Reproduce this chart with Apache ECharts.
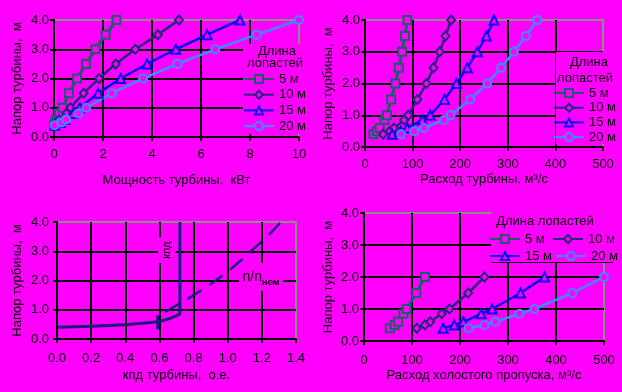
<!DOCTYPE html>
<html>
<head>
<meta charset="utf-8">
<script src="https://cdn.jsdelivr.net/npm/echarts@6/dist/echarts.min.js"></script>
<style>
html,body{margin:0;padding:0;background:#FF00FF;}
#c{width:622px;height:392px;}
</style>
</head>
<body>
<div id="c"></div>
<script>
// ---------- data ----------
const seriesNames = ['5 м', '10 м', '15 м', '20 м'];

// Top-left: head vs turbine power (kW)
const powerHeads = [0.4, 0.5, 0.6, 0.8, 1.0, 1.5, 2.0, 2.5, 3.0, 3.5, 4.0];
const power5  = [0.02, 0.05, 0.10, 0.20, 0.35, 0.61, 0.94, 1.31, 1.69, 2.11, 2.55];
const power10 = [0.02, 0.10, 0.20, 0.50, 0.67, 1.21, 1.84, 2.52, 3.32, 4.24, 5.10];
const power15 = [0.03, 0.25, 0.45, 0.78, 1.05, 1.80, 2.72, 3.80, 4.97, 6.25, 7.59];
const power20 = [0.03, 0.30, 0.50, 1.00, 1.32, 2.36, 3.64, 5.04, 6.59, 8.27, 10.0];

// Top-right: head vs turbine discharge (m3/s)
const flowHeads = [0.4, 0.5, 0.6, 0.85, 1.0, 1.5, 2.0, 2.5, 3.0, 3.5, 4.0];
const flow5  = [18, 25, 31, 41, 46, 55, 64, 71, 78, 84, 89];
const flow10 = [38, 52, 61, 82, 91, 110, 129, 144, 157, 169, 181];
const flow15 = [57, 75, 89, 120, 137, 167, 192, 215, 236, 255, 271];
const flow20 = [76, 103, 124, 166, 180, 221, 257, 286, 313, 338, 362];

// Bottom-left: efficiency and n/n_nom vs head
const effX = [0.0, 0.2, 0.4, 0.55, 0.6, 0.66, 0.72, 0.72];
const effH = [0.40, 0.44, 0.49, 0.56, 0.60, 0.70, 0.85, 4.0];
const effMark = [0.59, 0.57];
const nX = [0.632, 0.656, 0.80, 0.93, 1.04, 1.135, 1.23, 1.312];
const nH = [0.93, 1.0, 1.5, 2.0, 2.5, 3.0, 3.5, 4.0];

// Bottom-right: head vs idle spill discharge (m3/s)
const spillHeads = [0.4, 0.5, 0.6, 0.85, 1.0, 1.5, 2.0];
const spill5  = [54, 64, 71, 82, 89, 109, 127];
const spill10 = [110, 127, 138, 162, 178, 217, 251];
const spill15 = [165, 188, 207, 244, 267, 326, 376];
const spill20 = [218, 251, 274, 324, 355, 434, 500];

// tick settings
const headTicks = {min: 0, max: 4, interval: 1};
const powerTicks = {min: 0, max: 10, interval: 2};
const flowTicks = {min: 0, max: 500, interval: 100};
const effTicks = {min: 0, max: 1.4, interval: 0.2};

// ---------- styling ----------
const FONT = '"Liberation Sans", Arial, sans-serif';
const BG = '#FF00FF';
const styles = {
  '5 м':  {color: '#1E5A6C', symbol: 'rect',     size: 8,      width: 3},
  '10 м': {color: '#26267E', symbol: 'diamond',  size: [8, 9], width: 2.5},
  '15 м': {color: '#0A0AEE', symbol: 'triangle', size: 9,      width: 2.5},
  '20 м': {color: '#3C8CFF', symbol: 'circle',   size: 8,      width: 2.5}
};

function pairs(xs, ys) { return xs.map((x, i) => [x, ys[i]]); }

function lineSeries(name, xIdx, yIdx, xs, ys) {
  const s = styles[name];
  return {
    type: 'line', name: name, xAxisIndex: xIdx, yAxisIndex: yIdx,
    data: pairs(xs, ys),
    symbol: s.symbol, symbolSize: s.size,
    lineStyle: {color: s.color, width: s.width},
    itemStyle: {color: BG, borderColor: s.color, borderWidth: 2},
    z: 2, animation: false
  };
}

const tickLabel1 = v => v.toFixed(1);

function xAxis(grid, ticks, name, nameGap, labelMargin, fmt) {
  return Object.assign({
    type: 'value', gridIndex: grid, name: name, nameLocation: 'middle', nameGap: nameGap,
    nameTextStyle: {color: '#000', fontSize: 13, fontFamily: FONT},
    axisLine: {show: true, onZero: false, lineStyle: {color: '#000', width: 2}},
    axisTick: {show: true, length: 4, lineStyle: {color: '#000', width: 2}},
    axisLabel: {color: '#000', fontSize: 13, fontFamily: FONT, margin: labelMargin, formatter: fmt},
    splitLine: {show: true, showMinLine: false, showMaxLine: false, lineStyle: {color: '#000', width: 2}}
  }, ticks);
}
function yAxis(grid, name, nameGap, labelMargin) {
  return Object.assign({
    type: 'value', gridIndex: grid, name: name, nameLocation: 'middle', nameGap: nameGap,
    nameTextStyle: {color: '#000', fontSize: 13, fontFamily: FONT},
    axisLine: {show: true, onZero: false, lineStyle: {color: '#000', width: 2}},
    axisTick: {show: true, length: 4, lineStyle: {color: '#000', width: 2}},
    axisLabel: {color: '#000', fontSize: 13, fontFamily: FONT, margin: labelMargin, formatter: tickLabel1},
    splitLine: {show: true, showMinLine: false, showMaxLine: false, lineStyle: {color: '#000', width: 2}}
  }, headTicks);
}

const gridBase = {show: true, borderColor: '#8C8C8C', borderWidth: 2, backgroundColor: 'transparent', containLabel: false};

function legendBox(opts) {
  return Object.assign({
    itemWidth: 30, itemHeight: 10,
    textStyle: {color: '#000', fontSize: 13, fontFamily: FONT, lineHeight: 14},
    backgroundColor: 'transparent', padding: 0, z: 4
  }, opts);
}

function gText(text, x, y, extra) {
  return Object.assign({
    type: 'text', x: x, y: y, z: 10,
    style: {text: text, fill: '#000', font: '13px ' + FONT, align: 'center', verticalAlign: 'middle'}
  }, extra || {});
}
function gRect(x, y, w, h) {
  return {type: 'rect', z: 3, shape: {x: x, y: y, width: w, height: h}, style: {fill: BG}};
}

const option = {
  backgroundColor: BG,
  animation: false,
  grid: [
    Object.assign({left: 54, top: 20, width: 245, height: 117}, gridBase),
    Object.assign({left: 365, top: 20, width: 238, height: 127}, gridBase),
    Object.assign({left: 57, top: 222, width: 239, height: 117}, gridBase),
    Object.assign({left: 364, top: 213, width: 240, height: 128}, gridBase)
  ],
  xAxis: [
    xAxis(0, powerTicks, 'Мощность турбины,  кВт', 37, 11),
    xAxis(1, flowTicks, 'Расход турбины, м³/с', 26, 11),
    xAxis(2, effTicks, 'кпд турбины,  о.е.', 30, 13, tickLabel1),
    xAxis(3, flowTicks, 'Расход холостого пропуска, м³/с', 28, 13)
  ],
  yAxis: [
    yAxis(0, 'Напор турбины,  м', 30, 5),
    yAxis(1, 'Напор турбины,  м', 30, 5),
    yAxis(2, 'Напор турбины,  м', 33, 8),
    yAxis(3, 'Напор турбины,  м', 29, 5)
  ],
  legend: [
    legendBox({orient: 'vertical', left: 243, top: 72, itemGap: 1.7, data: seriesNames}),
    legendBox({orient: 'vertical', left: 553, top: 86, itemGap: 0.7, data: seriesNames}),
    legendBox({orient: 'horizontal', left: 489, top: 232, itemGap: 3, data: ['5 м', '10 м'],
      textStyle: {color: '#000', fontSize: 13, fontFamily: FONT, lineHeight: 14, width: 24}}),
    legendBox({orient: 'horizontal', left: 489, top: 249, itemGap: 3, data: ['15 м', '20 м'],
      textStyle: {color: '#000', fontSize: 13, fontFamily: FONT, lineHeight: 14, width: 24}})
  ],
  graphic: [
    gRect(243, 44, 60, 90),
    gRect(556, 52, 58, 92),
    gRect(491, 211, 123, 51),
    {type: 'line', z: 3, shape: {x1: 491, y1: 262.5, x2: 613, y2: 262.5}, style: {stroke: '#000', lineWidth: 1}},
    gText('Длина', 277, 51),
    gText('лопастей', 275, 63),
    gText('Длина', 589, 62),
    gText('лопастей', 585, 78),
    gText('Длина лопастей', 545, 221)
  ],
  series: [
    lineSeries('5 м', 0, 0, power5, powerHeads),
    lineSeries('10 м', 0, 0, power10, powerHeads),
    lineSeries('15 м', 0, 0, power15, powerHeads),
    lineSeries('20 м', 0, 0, power20, powerHeads),

    lineSeries('5 м', 1, 1, flow5, flowHeads),
    lineSeries('10 м', 1, 1, flow10, flowHeads),
    lineSeries('15 м', 1, 1, flow15, flowHeads),
    lineSeries('20 м', 1, 1, flow20, flowHeads),

    {
      type: 'line', name: 'кпд', xAxisIndex: 2, yAxisIndex: 2,
      data: pairs(effX, effH), symbol: 'none', smooth: false,
      lineStyle: {color: '#1A1A80', width: 3}, z: 2,
      markPoint: {
        silent: true, animation: false,
        data: [
          {coord: effMark, symbol: 'rect', symbolSize: [3, 14], itemStyle: {color: '#1A1A80'}, label: {show: false}},
          {coord: [0.643, 3.04], symbol: 'rect', symbolSize: [18, 26], itemStyle: {color: BG},
            label: {show: true, position: 'inside', formatter: 'кпд', rotate: 90, color: '#000', fontSize: 11, fontFamily: FONT}},
          {coord: [1.195, 2.12], symbol: 'rect', symbolSize: [44, 28], itemStyle: {color: BG},
            label: {show: true, position: 'inside', formatter: '{a|n/n}{b|ном}',
              rich: {
                a: {fontSize: 14, fontFamily: FONT, color: '#000', lineHeight: 20, verticalAlign: 'middle'},
                b: {fontSize: 9, fontFamily: FONT, color: '#000', lineHeight: 10, verticalAlign: 'bottom', fontWeight: 'bold'}
              }}}
        ]
      }
    },
    {
      type: 'line', name: 'n/nном', xAxisIndex: 2, yAxisIndex: 2,
      data: pairs(nX, nH), symbol: 'none', smooth: true,
      lineStyle: {color: '#1A1A80', width: 2.5, type: [16, 10]}, z: 2
    },

    lineSeries('5 м', 3, 3, spill5, spillHeads),
    lineSeries('10 м', 3, 3, spill10, spillHeads),
    lineSeries('15 м', 3, 3, spill15, spillHeads),
    lineSeries('20 м', 3, 3, spill20, spillHeads)
  ]
};

const chart = echarts.init(document.getElementById('c'), null, {renderer: 'canvas'});
chart.setOption(option);
</script>
</body>
</html>
